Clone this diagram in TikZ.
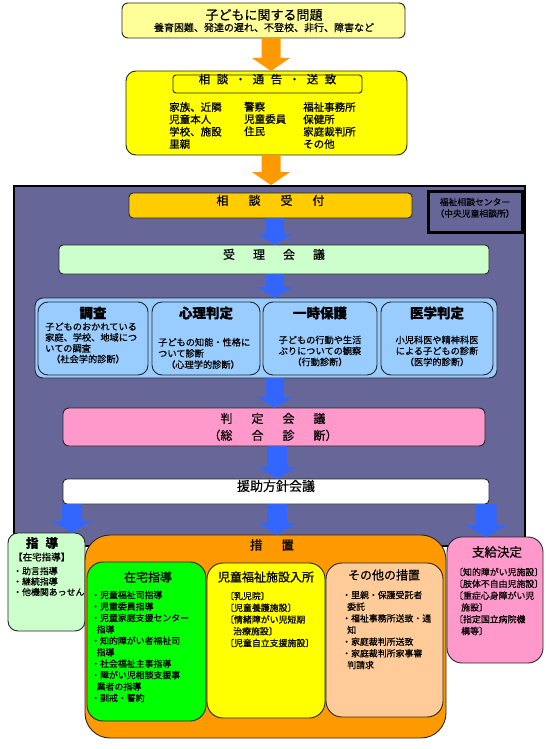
\documentclass[tikz,border=0pt]{standalone}
\usepackage{fontspec}
\setmainfont{Noto Sans CJK JP}[FakeBold=0.6]
\usetikzlibrary{fit,calc}
\definecolor{lyel}{HTML}{FFFF99}
\definecolor{yel}{HTML}{FFFF00}
\definecolor{orng}{HTML}{FF9900}
\definecolor{pur}{HTML}{666699}
\definecolor{gold}{HTML}{FFCC00}
\definecolor{lgrn}{HTML}{CCFFCC}
\definecolor{lblue}{HTML}{99CCFF}
\definecolor{blu}{HTML}{3366FF}
\definecolor{pnk}{HTML}{FF99CC}
\definecolor{grn}{HTML}{00FF00}
\definecolor{peach}{HTML}{FFCC99}
\newcommand\myfs[2]{\fontsize{#1}{#2}\selectfont}
% #1 x centre, #2 from, #3 to, #4 shaft half width, #5 head half width, #6 head length, #7 colour
\newcommand\blockarr[7]{%
  \fill[#7] let \p1=(#2), \p2=(#3), \p0=(#1,0) in
    (\x0-#4pt,\y1) -- (\x0-#4pt,\y2+#6pt) -- (\x0-#5pt,\y2+#6pt) -- (\x0,\y2)
    -- (\x0+#5pt,\y2+#6pt) -- (\x0+#4pt,\y2+#6pt) -- (\x0+#4pt,\y1) -- cycle;}
\tikzset{
  bx/.style={draw=black!85, line width=0.9pt, inner sep=0pt, outer sep=0pt},
  tx/.style={inner sep=0pt, align=left, anchor=west},
  ct/.style={inner sep=0pt, align=center},
}
\begin{document}
\begin{tikzpicture}[x=1pt,y=-1pt]
\useasboundingbox (0,0) rectangle (550,749);
\fill[white] (0,0) rectangle (550,749);

% top problem box
\node[bx, fill=lyel, rounded corners=6pt, fit={(122,3)(405,38)}] (prob) {};
\node[ct, font=\myfs{13}{13}] (probt) at (264,15) {子どもに関する問題};
\node[ct, font=\myfs{10}{10}] (probs) at (264,27.5) {養育困難、発達の遅れ、不登校、非行、障害など};

% consultation box
\node[bx, fill=yel, rounded corners=10pt, fit={(126,71)(407,155)}] (soudan) {};
\node[bx, fill=yel, rounded corners=3pt, fit={(173,75)(362,93)}, font=\myfs{11.5}{12}] (sttl)
  {相\hspace{6.5pt}談\hspace{6.5pt}・\hspace{6.5pt}通\hspace{6.5pt}告\hspace{6.5pt}・\hspace{6.5pt}送\hspace{6.5pt}致};
\node[tx, font=\myfs{10.5}{12.3}] (c1) at (169,125.5) {家族、近隣\\児童本人\\学校、施設\\里親};
\node[tx, font=\myfs{10.5}{12.3}] (c2) at (244,119) {警察\\児童委員\\住民};
\node[tx, font=\myfs{10.5}{12.3}] (c3) at (303,125.5) {福祉事務所\\保健所\\家庭裁判所\\その他};

% purple centre
\node[draw=black, line width=1.8pt, fill=pur, inner sep=0pt, fit={(14,186)(525,546)}] (purple) {};
\node[draw=black, line width=3pt, fill=pur, inner sep=0pt, fit={(428,191)(522,232)}, align=center,
  font=\myfs{8.8}{11.5}] (center) {福祉相談センター\\（中央児童相談所）};

\node[bx, fill=gold, rounded corners=4pt, fit={(129,193)(412,218)}, font=\myfs{12}{12}] (uketsuke)
  {相\hspace{20pt}談\hspace{20pt}受\hspace{20pt}付};
\node[bx, fill=lgrn, rounded corners=4pt, fit={(59,245)(489,274)}, font=\myfs{12}{12}] (juri)
  {受\hspace{18pt}理\hspace{18pt}会\hspace{18pt}議};

% diagnosis row
\node[bx, fill=lblue, rounded corners=8pt, fit={(35,298)(497,378)}] (bluebg) {};
\node[bx, fill=lblue, rounded corners=10pt, fit={(38,302)(148,375)}] (chosa) {};
\node[bx, fill=lblue, rounded corners=10pt, fit={(152,302)(260,375)}] (shinri) {};
\node[bx, fill=lblue, rounded corners=10pt, fit={(263,302)(377,375)}] (ichiji) {};
\node[bx, fill=lblue, rounded corners=10pt, fit={(381,302)(493,375)}] (igaku) {};

\node[ct, font=\myfs{13.5}{14}\bfseries] (chosat) at (93,313) {調査};
\node[ct, font=\myfs{13.5}{14}\bfseries] (shinrit) at (206,313) {心理判定};
\node[ct, font=\myfs{13.5}{14}\bfseries] (ichijit) at (320,313) {一時保護};
\node[ct, font=\myfs{13.5}{14}\bfseries] (igakut) at (437,313) {医学判定};

\node[tx, font=\myfs{9.2}{10.8}] (chosab) at (45,343)
  {子どものおかれている\\家庭、学校、地域につ\\いての調査\\\hspace*{6pt}（社会学的診断）};
\node[tx, font=\myfs{9.2}{11.2}] (shinrib) at (158,353.5)
  {子どもの知能・性格に\\ついて診断\\\hspace*{8pt}（心理学的診断）};
\node[ct, font=\myfs{9.2}{11}] (ichijib) at (320,351)
  {子どもの行動や生活\\ぶりについての観察\\（行動診断）};
\node[ct, font=\myfs{9.2}{11}] (igakub) at (437,351)
  {小児科医や精神科医\\による子どもの診断\\（医学的診断）};

% judgement & policy
\node[bx, fill=pnk, rounded corners=6pt, fit={(63,408)(485,446)}] (hantei) {};
\node[ct, font=\myfs{12}{17}] (hantt) at (273,427)
  {判\hspace{19pt}定\hspace{19pt}会\hspace{19pt}議\\（総\hspace{19pt}合\hspace{19pt}診\hspace{19pt}断）};
\node[bx, fill=white, rounded corners=4pt, fit={(63,479)(489,504)}, font=\myfs{13}{13}] (enjo) {援助方針会議};

% lower boxes
\node[bx, fill=lgrn, rounded corners=10pt, fit={(8,533)(85,631)}] (shido) {};
\node[ct, font=\myfs{12.5}{13}\bfseries] (shidot) at (42,543) {指\hspace{7pt}導};
\node[tx, font=\myfs{9.5}{10}] (shidoz) at (13,557) {【在宅指導】};
\node[tx, font=\myfs{8.9}{10.5}] (shidob) at (13,581.5) {・助言指導\\・継続指導\\・他機関あっせん};

\node[bx, fill=orng, rounded corners=25pt, fit={(85,535)(446,738)}] (sochi) {};
\node[ct, font=\myfs{12.5}{13}] (sochit) at (272,545) {措\hspace{19pt}置};

\node[bx, fill=grn, rounded corners=16pt, fit={(87,562)(206,721)}] (zaitaku) {};
\node[ct, font=\myfs{12}{12}] (zaitakut) at (148,577) {在宅指導};
\node[tx, font=\myfs{8.9}{11.44}] (zaitakub) at (91,646.5)
  {・児童福祉司指導\\・児童委員指導\\・児童家庭支援センター\\\hspace*{5.5pt}指導\\・知的障がい者福祉司\\\hspace*{5.5pt}指導\\・社会福祉主事指導\\・障がい児相談支援事\\\hspace*{5.5pt}業者の指導\\・訓戒・誓約};

\node[bx, fill=yel, rounded corners=16pt, fit={(207,563)(325,718)}] (shisetsu) {};
\node[ct, font=\myfs{12}{12}] (shisetsut) at (266,577) {児童福祉施設入所};
\node[tx, font=\myfs{8.9}{11.75}] (shisetsub) at (225,619.5)
  {〔乳児院〕\\〔児童養護施設〕\\〔情緒障がい児短期\\\hspace*{8pt}治療施設〕\\〔児童自立支援施設〕};

\node[bx, fill=peach, rounded corners=16pt, fit={(326,563)(443,717)}] (sonota) {};
\node[ct, font=\myfs{12}{12}] (sonotat) at (384,575) {その他の措置};
\node[tx, font=\myfs{8.9}{11.67}] (sonotab) at (342,630)
  {・里親・保護受託者\\\hspace*{5pt}委託\\・福祉事務所送致・通\\\hspace*{5pt}知\\・家庭裁判所送致\\・家庭裁判所家事審\\\hspace*{5pt}判請求};

\node[bx, fill=pnk, rounded corners=15pt, fit={(447,537)(543,663)}] (shikyu) {};
\node[ct, font=\myfs{12.5}{13}] (shikyut) at (497,552) {支給決定};
\node[tx, font=\myfs{8.9}{11.8}] (shikyub) at (454,601.5)
  {〔知的障がい児施設〕\\〔肢体不自由児施設〕\\〔重症心身障がい児\\\hspace*{7pt}施設〕\\〔指定国立病院機\\\hspace*{7pt}構等〕};

% arrows
\blockarr{271}{prob.south}{soudan.north}{9.5}{19}{13}{orng}
\blockarr{271}{soudan.south}{purple.north}{9.5}{19}{13}{orng}
\blockarr{275}{uketsuke.south}{juri.north}{9}{17.5}{11}{blu}
\blockarr{275}{juri.south}{bluebg.north}{9}{17.5}{11}{blu}
\blockarr{275}{bluebg.south}{hantei.north}{9}{17.5}{11}{blu}
\blockarr{277}{hantei.south}{enjo.north}{10}{19}{12}{blu}
\blockarr{72}{enjo.south}{shido.north}{10}{20}{12}{blu}
\blockarr{277}{enjo.south}{sochi.north}{10}{19}{12}{blu}
\blockarr{486}{enjo.south}{shikyu.north}{10.5}{21}{12}{blu}
\end{tikzpicture}
\end{document}
